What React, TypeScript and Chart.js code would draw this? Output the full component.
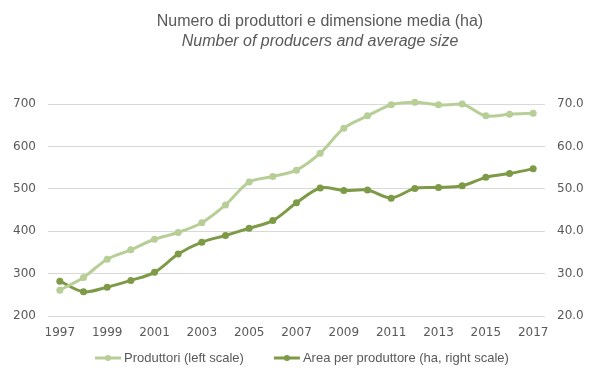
import React, { useEffect, useRef } from "react";
import { Chart, registerables } from "chart.js";

Chart.register(...registerables);

const years = ["1997","1998","1999","2000","2001","2002","2003","2004","2005","2006","2007","2008","2009","2010","2011","2012","2013","2014","2015","2016","2017"];
const produttori = [261,291,334,356,381,397,420,462,516,529,544,584,643,672,698,704,698,700,672,676,678];
const areaPerProduttore = [28.2,25.7,26.8,28.4,30.3,34.6,37.4,39.0,40.7,42.5,46.7,50.2,49.6,49.7,47.8,50.1,50.3,50.7,52.7,53.6,54.7];
const titleLine1 = "Numero di produttori e dimensione media (ha)";
const titleLine2 = "Number of producers and average size";
const legendLabels = ["Produttori (left scale)", "Area per produttore (ha, right scale)"];

const LIGHT = "#b7cf96";
const DARK = "#7d9a46";
const TEXT = "#595959";

const overlay = {
  id: "overlay",
  afterDraw(chart: any) {
    const ctx = chart.ctx as CanvasRenderingContext2D;
    ctx.save();
    ctx.fillStyle = TEXT;
    ctx.textAlign = "center";
    ctx.textBaseline = "middle";
    ctx.font = "16px 'Liberation Sans', sans-serif";
    ctx.fillText(titleLine1, 320, 22);
    ctx.font = "italic 16px 'Liberation Sans', sans-serif";
    ctx.fillText(titleLine2, 320, 42);

    ctx.font = "13px 'Liberation Sans', sans-serif";
    ctx.textAlign = "left";
    const colors = [LIGHT, DARK];
    let x = 95;
    const y = 358;
    legendLabels.forEach((lab, i) => {
      ctx.strokeStyle = colors[i];
      ctx.fillStyle = colors[i];
      ctx.lineWidth = 3;
      ctx.beginPath();
      ctx.moveTo(x, y);
      ctx.lineTo(x + 26, y);
      ctx.stroke();
      ctx.beginPath();
      ctx.arc(x + 13, y, 3, 0, Math.PI * 2);
      ctx.fill();
      ctx.fillStyle = TEXT;
      ctx.fillText(lab, x + 29, y);
      x += 29 + ctx.measureText(lab).width + 30;
    });
    ctx.restore();
  },
};

export default function App() {
  const ref = useRef<HTMLCanvasElement | null>(null);
  useEffect(() => {
    document.body.style.margin = "0";
    const tickFont = { family: "'DejaVu Sans', sans-serif", size: 12 };
    const chart = new Chart(ref.current!, {
      type: "line",
      data: {
        labels: years,
        datasets: [
          {
            label: legendLabels[0],
            data: produttori,
            borderColor: LIGHT,
            backgroundColor: LIGHT,
            borderWidth: 3,
            pointRadius: 3.5,
            pointBorderWidth: 0,
            tension: 0.3,
            clip: false,
            yAxisID: "y",
          },
          {
            label: legendLabels[1],
            data: areaPerProduttore,
            borderColor: DARK,
            backgroundColor: DARK,
            borderWidth: 3,
            pointRadius: 3.5,
            pointBorderWidth: 0,
            tension: 0.3,
            clip: false,
            yAxisID: "y1",
          },
        ],
      },
      options: {
        animation: false,
        responsive: false,
        layout: { padding: { top: 104, left: 0, right: 0, bottom: 0 } },
        plugins: {
          legend: { display: false },
          title: { display: false },
          tooltip: { enabled: false },
        },
        scales: {
          x: {
            offset: true,
            grid: { display: false, drawTicks: false },
            border: { display: false },
            ticks: { color: TEXT, font: tickFont, padding: 10, maxRotation: 0, autoSkip: false,
              callback: (v: any, i: number) => (i % 2 === 0 ? years[i] : "") },
            afterFit: (s: any) => { s.height = 62; },
          },
          y: {
            position: "left",
            min: 200,
            max: 700,
            grid: { color: "#d9d9d9", drawTicks: false, lineWidth: 1 },
            border: { display: false },
            ticks: { stepSize: 100, color: TEXT, font: tickFont, padding: 12 },
            afterFit: (s: any) => { s.width = 48; },
          },
          y1: {
            position: "right",
            min: 20,
            max: 70,
            grid: { display: false, drawTicks: false },
            border: { display: false },
            ticks: { stepSize: 10, color: TEXT, font: tickFont, padding: 12,
              callback: (v: any) => Number(v).toFixed(1) },
            afterFit: (s: any) => { s.width = 54; },
          },
        },
      },
      plugins: [overlay],
    });
    return () => chart.destroy();
  }, []);
  return (
    <div style={{ position: "absolute", left: 0, top: 0, width: 599, height: 378 }}>
      <canvas ref={ref} width={599} height={378} />
    </div>
  );
}
